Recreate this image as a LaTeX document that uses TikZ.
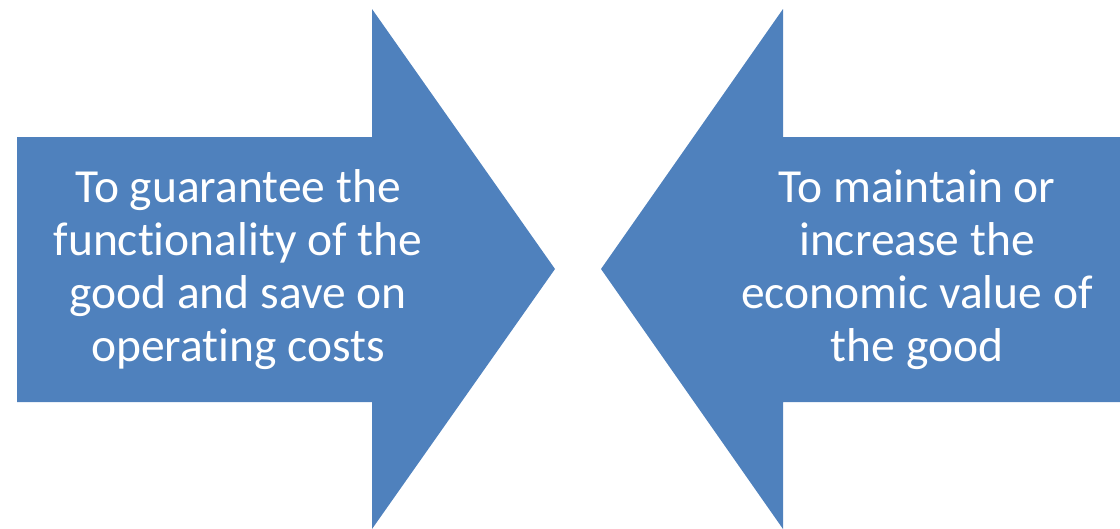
\documentclass[tikz,border=0pt]{standalone}
\usepackage{fontspec}
\setmainfont{Carlito}[Ligatures=NoCommon]
\definecolor{arrowblue}{HTML}{4F81BD}
\begin{document}
\begin{tikzpicture}[x=1pt,y=-1pt,
  arrowshape/.style={fill=arrowblue,draw=none},
  arrowtext/.style={text=white,align=center,font=\fontsize{47.5}{53}\selectfont,inner sep=0pt}]
\useasboundingbox (0,0) rectangle (1120,528);
\fill[arrowshape] (17,137) -- (372,137) -- (372,9) -- (555,269) -- (372,529) -- (372,402) -- (17,402) -- cycle;
\fill[arrowshape] (1121,137) -- (783,137) -- (783,9) -- (601,269) -- (783,529) -- (783,402) -- (1121,402) -- cycle;
\node[arrowtext] (lt) at (238,269.5) {To guarantee the\\functionality of the\\good and save on\\operating costs};
\node[arrowtext] (rt) at (917,269.5) {To maintain or\\increase the\\economic value of\\the good};
\end{tikzpicture}
\end{document}
